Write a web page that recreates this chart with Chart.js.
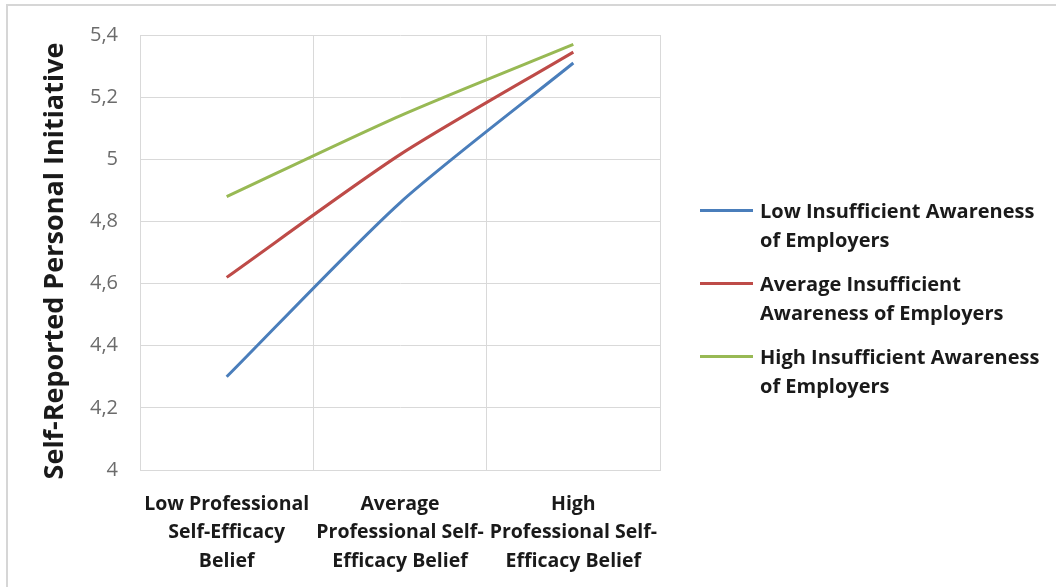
<!DOCTYPE html>
<html>
<head>
<meta charset="utf-8">
<script src="https://cdn.jsdelivr.net/npm/chart.js@4/dist/chart.umd.min.js"></script>
<style>
  html, body { margin: 0; padding: 0; background: #fff; }
  #wrap { position: relative; width: 1056px; height: 587px; overflow: hidden; }
  #frame { position: absolute; left: 6px; top: 4px; right: -2px; bottom: -2px;
           border-left: 2px solid #d6d6d6; border-top: 2px solid #d6d6d6; pointer-events: none; }
  #legend { position: absolute; left: 700px; top: 196px; font-family: "Open Sans", sans-serif;
            font-weight: bold; font-size: 20px; color: #1a1a1a; line-height: 29px; }
  .item { position: relative; padding-left: 60px; margin-bottom: 15px; white-space: nowrap; }
  .swatch { position: absolute; left: 0; top: 13px; width: 53px; height: 3px; }
</style>
</head>
<body>
<div id="wrap">
  <canvas id="c" width="1056" height="587"></canvas>
  <div id="legend"></div>
  <div id="frame"></div>
</div>
<script>
// Categories on the x axis (professional self-efficacy belief)
const categories = [
  ["Low Professional", "Self-Efficacy", "Belief"],
  ["Average", "Professional Self-", "Efficacy Belief"],
  ["High", "Professional Self-", "Efficacy Belief"]
];

// Series labels (insufficient awareness of employers)
const seriesNames = [
  "Low Insufficient Awareness of Employers",
  "Average Insufficient Awareness of Employers",
  "High Insufficient Awareness of Employers"
];
const legendLines = [
  ["Low Insufficient Awareness", "of Employers"],
  ["Average Insufficient", "Awareness of Employers"],
  ["High Insufficient Awareness", "of Employers"]
];

// Y axis title
const yTitle = "Self-Reported Personal Initiative";

// Self-reported personal initiative per series
const lowAwareness = [4.30, 4.86, 5.31];
const averageAwareness = [4.62, 5.015, 5.345];
const highAwareness = [4.88, 5.14, 5.37];

// Y axis range
const yMin = 4;
const yMax = 5.4;
const yStep = 0.2;

const colors = ["#4a7ebb", "#be4b48", "#98b954"];
const seriesValues = [lowAwareness, averageAwareness, highAwareness];

const datasets = seriesValues.map((vals, i) => ({
  label: seriesNames[i],
  data: vals,
  borderColor: colors[i],
  backgroundColor: colors[i],
  borderWidth: 3,
  pointRadius: 0,
  tension: 0.25,
  fill: false
}));

const gridColor = "#d9d9d9";
const family = "'Open Sans', sans-serif";

// Rotated y-axis title, placed a little below the plot's vertical middle
const yTitlePlugin = {
  id: "yTitle",
  afterDraw(chart) {
    const { ctx } = chart;
    ctx.save();
    ctx.translate(55, 261);
    ctx.rotate(-Math.PI / 2);
    ctx.font = "bold 27px " + family;
    ctx.fillStyle = "#1a1a1a";
    ctx.textAlign = "center";
    ctx.textBaseline = "middle";
    ctx.fillText(yTitle, 0, 0);
    ctx.restore();
  }
};

const chart = new Chart(document.getElementById("c"), {
  type: "line",
  data: { labels: categories, datasets },
  plugins: [yTitlePlugin],
  options: {
    responsive: false,
    animation: false,
    devicePixelRatio: 1,
    layout: { padding: { left: 8, top: 35, right: 396, bottom: 0 } },
    plugins: { legend: { display: false }, tooltip: { enabled: false } },
    scales: {
      x: {
        type: "category",
        offset: true,
        grid: { offset: true, color: gridColor, drawTicks: false, lineWidth: 1 },
        border: { color: gridColor },
        ticks: {
          color: "#1a1a1a",
          padding: 20,
          maxRotation: 0,
          autoSkip: false,
          font: { family, size: 19.5, weight: "bold", lineHeight: "28.5px" }
        },
        afterFit: (s) => { s.height = 117; }
      },
      y: {
        min: yMin,
        max: yMax,
        grid: { color: gridColor, drawTicks: false },
        border: { color: gridColor },
        ticks: {
          stepSize: yStep,
          padding: 22,
          color: "#6b6b6b",
          font: { family, size: 20 },
          callback: (v) => String(Math.round(v * 10) / 10).replace(".", ",")
        },
        afterFit: (s) => { s.width = 132; }
      }
    }
  }
});

// Legend built from the chart's datasets
const legend = document.getElementById("legend");
chart.data.datasets.forEach((ds, i) => {
  const item = document.createElement("div");
  item.className = "item";
  const sw = document.createElement("span");
  sw.className = "swatch";
  sw.style.background = ds.borderColor;
  item.appendChild(sw);
  legendLines[i].forEach((line) => {
    const d = document.createElement("div");
    d.textContent = line;
    item.appendChild(d);
  });
  legend.appendChild(item);
});
</script>
</body>
</html>
